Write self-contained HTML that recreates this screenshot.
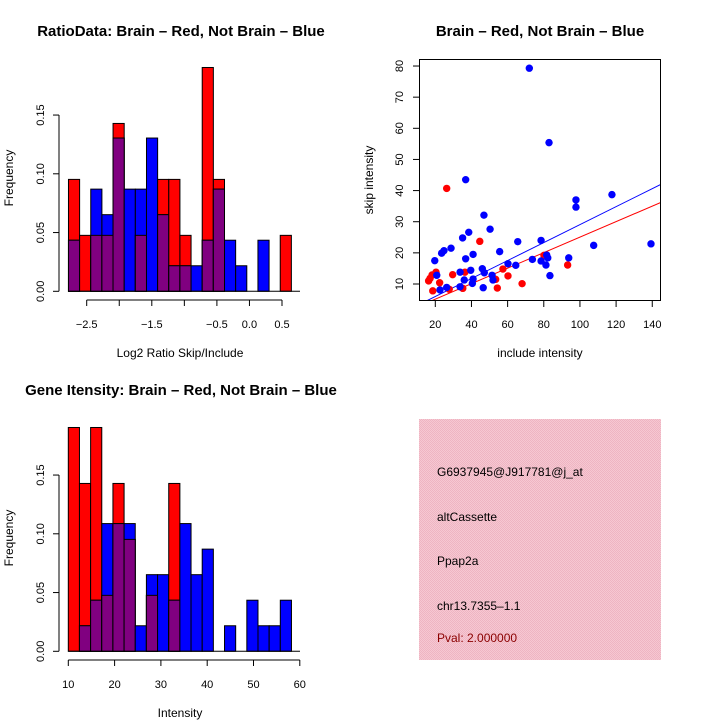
<!DOCTYPE html>
<html><head><meta charset="utf-8"><style>
body{margin:0;background:#fff}
svg{display:block;font-family:"Liberation Sans",sans-serif}
</style></head><body>
<svg id="s" width="720" height="720" viewBox="0 0 720 720">
<rect x="0" y="0" width="720" height="720" fill="#fff"/>
<text x="181" y="36" text-anchor="middle" font-size="15" font-weight="bold">RatioData: Brain – Red, Not Brain – Blue</text>
<text x="540" y="36" text-anchor="middle" font-size="15" font-weight="bold">Brain – Red, Not Brain – Blue</text>
<text x="181" y="395" text-anchor="middle" font-size="15" font-weight="bold">Gene Itensity: Brain – Red, Not Brain – Blue</text>
<text x="180" y="357" text-anchor="middle" font-size="12">Log2 Ratio Skip/Include</text>
<text x="180" y="717" text-anchor="middle" font-size="12">Intensity</text>
<text x="540" y="357" text-anchor="middle" font-size="12">include intensity</text>
<text transform="translate(13,178) rotate(-90)" text-anchor="middle" font-size="12">Frequency</text>
<text transform="translate(13,538) rotate(-90)" text-anchor="middle" font-size="12">Frequency</text>
<text transform="translate(373,180) rotate(-90)" text-anchor="middle" font-size="12">skip intensity</text>
<g id="h1"></g>
<g id="h2"></g>
<g id="sc"></g>
<g>
<defs><pattern id="pk" width="2" height="2" patternUnits="userSpaceOnUse"><rect width="2" height="2" fill="#f6c8d2"/><rect width="1" height="1" fill="#eeb4c2"/><rect x="1" y="1" width="1" height="1" fill="#eeb4c2"/></pattern></defs>
<rect x="419" y="419" width="242" height="241" fill="url(#pk)"/>
<text x="437" y="476" font-size="12">G6937945@J917781@j_at</text>
<text x="437" y="521" font-size="12">altCassette</text>
<text x="437" y="565" font-size="12">Ppap2a</text>
<text x="437" y="610" font-size="12">chr13.7355–1.1</text>
<text x="437" y="642" font-size="12" fill="#8b0000">Pval: 2.000000</text>
</g>
</svg>
<script>
// Ratio histogram data
const ratioRedCounts = [2,1,1,1,3,0,1,0,2,2,1,0,4,2,0,0,0,0,0,1];
const ratioBlueCounts = [2,0,4,3,6,4,4,6,3,1,1,1,2,4,2,1,0,2,0,0];
const ratioBinStart = -2.78, ratioBinWidth = 0.1712;
const ratioTicks = [-2.5,-2,-1.5,-1,-0.5,0,0.5];
const ratioTickLabels = ["−2.5","","−1.5","","−0.5","0.0","0.5"];
// Intensity histogram data
const intRedCounts = [4,3,4,1,3,2,0,1,0,3,0,0,0,0,0,0,0,0,0,0];
const intBlueCounts = [0,1,2,5,5,5,1,3,3,2,5,3,4,0,1,0,2,1,1,2];
const intBinStart = 10, intBinWidth = 2.41;
const intTicks = [10,20,30,40,50,60];
const freqTicks = [0,0.05,0.10,0.15];
const freqTickLabels = ["0.00","0.05","0.10","0.15"];
const redTotal = 21, blueTotal = 46;
// Scatter data
const blueX = [72,82.9,36.8,46.9,38.5,50.3,35.1,28.7,24.8,23.5,19.7,36.8,40.9,55.6,65.6,78.5,97.8,97.8,117.7,107.6,139.3,93.8,81.6,82.2,73.7,78.5,81.2,60.2,64.5,83.4,39.6,46,47.1,33.7,36,40.9,40.5,51.4,51.9,20.8,26.3,22.6,33.7,46.5];
const blueY = [79.3,55.4,43.5,32.1,26.6,27.6,24.8,21.5,20.7,19.9,17.5,18.1,19.5,20.4,23.6,24,37,34.7,38.7,22.4,22.9,18.4,19.3,18.4,17.9,17.4,16.1,16.5,16,12.7,14.4,14.9,13.6,13.8,11.3,11.6,10.2,12.8,11.3,12.8,8.9,8.1,9.1,8.8];
const redX = [26.3,44.6,80.1,93.2,57.4,60.2,68,54.3,53.4,36.4,29.6,35.2,27.7,22.4,18.6,20.4,18.2,17.1,16.3];
const redY = [40.7,23.7,19.2,16.1,14.8,12.6,10.1,8.7,11.5,13.8,13,8.6,8.3,10.4,7.8,13.8,12.9,11.8,11];
const blueFit = [0.21, 0.2886];
const redFit = [0.15, 0.249];
const scXTicks = [20,40,60,80,100,120,140];
const scYTicks = [10,20,30,40,50,60,70,80];

const NS="http://www.w3.org/2000/svg";
function mk(p,t,a){const e=document.createElementNS(NS,t);for(const k in a)e.setAttribute(k,a[k]);p.appendChild(e);return e;}

function hist(g, red, blue, start, w, xs, ticks, tickLabels, base, xAxisY, labY){
  const ys=v=>base - v*1175;
  for(let i=0;i<red.length;i++){
    const x0=xs(start+i*w), x1=xs(start+(i+1)*w);
    const r=red[i]/redTotal, b=blue[i]/blueTotal, m=Math.min(r,b);
    if(r>0){const e=mk(g,'rect',{x:x0,y:ys(r),width:x1-x0,height:base-ys(r),fill:'#f00',stroke:'#000','stroke-width':1});
      
      }
    if(b>0){const e=mk(g,'rect',{x:x0,y:ys(b),width:x1-x0,height:base-ys(b),fill:'#00f',stroke:'#000','stroke-width':1});
      
      }
    if(m>0){const e=mk(g,'rect',{x:x0,y:ys(m),width:x1-x0,height:base-ys(m),fill:'#800080',stroke:'#000','stroke-width':1});
      
      }
  }
  mk(g,'line',{x1:xs(start),x2:300,y1:base,y2:base,stroke:'#000'});
  mk(g,'line',{x1:59,x2:59,y1:ys(0),y2:ys(0.15),stroke:'#000'});
  freqTicks.forEach((v,i)=>{
    mk(g,'line',{x1:53,x2:59,y1:ys(v),y2:ys(v),stroke:'#000'});
    const t=mk(g,'text',{transform:`translate(44,${ys(v)}) rotate(-90)`,'text-anchor':'middle','font-size':11});
    t.textContent=freqTickLabels[i];
    
    
  });
  mk(g,'line',{x1:xs(ticks[0]),x2:xs(ticks[ticks.length-1]),y1:xAxisY,y2:xAxisY,stroke:'#000'});
  ticks.forEach((v,i)=>{
    mk(g,'line',{x1:xs(v),x2:xs(v),y1:xAxisY,y2:xAxisY+6,stroke:'#000'});
    const t=mk(g,'text',{x:xs(v),y:labY,'text-anchor':'middle','font-size':11});
    t.textContent=tickLabels[i];
    
    
  });
}
hist(document.getElementById('h1'), ratioRedCounts, ratioBlueCounts, ratioBinStart, ratioBinWidth,
  v=>86.7+(v+2.5)*65.1, ratioTicks, ratioTickLabels, 291.3, 300, 328);
hist(document.getElementById('h2'), intRedCounts, intBlueCounts, intBinStart, intBinWidth,
  v=>68.3+(v-10)*4.63, intTicks, intTicks.map(String), 651.3, 660, 688);

(function(){
  const g=document.getElementById('sc');
  const sx=v=>435.3+(v-20)*1.808, sy=v=>284-(v-10)*3.114;
  const cp=mk(g,'clipPath',{id:'cp'}); mk(cp,'rect',{x:419,y:59,width:241,height:242});
  const pg=mk(g,'g',{'clip-path':'url(#cp)'});
  [[blueFit,'#00f'],[redFit,'#f00']].forEach(([f,c])=>{
    const l=mk(pg,'line',{x1:sx(0),y1:sy(f[0]),x2:sx(160),y2:sy(f[0]+f[1]*160),stroke:c,'stroke-width':1});
    
    
  });
  redX.forEach((x,i)=>{const c=mk(g,'circle',{cx:sx(x),cy:sy(redY[i]),r:3.7,fill:'#f00'});
    
    });
  blueX.forEach((x,i)=>{const c=mk(g,'circle',{cx:sx(x),cy:sy(blueY[i]),r:3.7,fill:'#00f'});
    
    });
  mk(g,'rect',{x:419.5,y:59.5,width:241,height:241,fill:'none',stroke:'#000'});
  scXTicks.forEach(v=>{
    mk(g,'line',{x1:sx(v),x2:sx(v),y1:301,y2:307,stroke:'#000'});
    const t=mk(g,'text',{x:sx(v),y:328,'text-anchor':'middle','font-size':11});
    t.textContent=v;
    
    
  });
  scYTicks.forEach(v=>{
    mk(g,'line',{x1:413,x2:419,y1:sy(v),y2:sy(v),stroke:'#000'});
    const t=mk(g,'text',{transform:`translate(403,${sy(v)}) rotate(-90)`,'text-anchor':'middle','font-size':11});
    t.textContent=v;
    
    
  });
})();
</script>
</body></html>
